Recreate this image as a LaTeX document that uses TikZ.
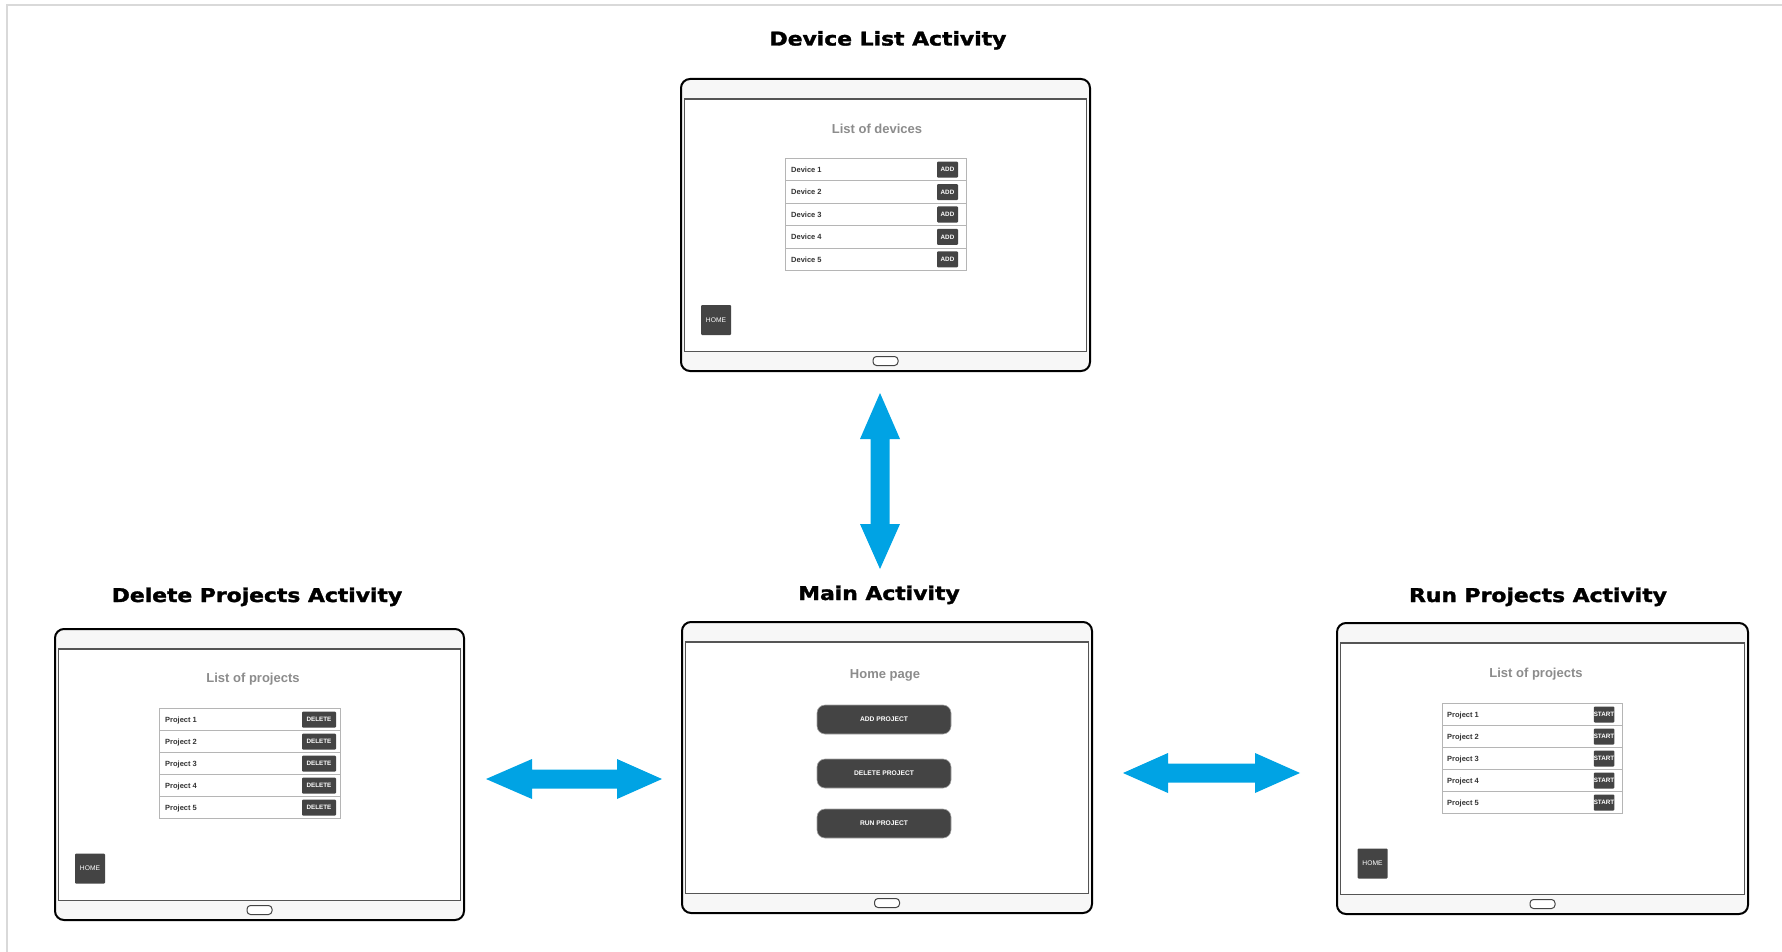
\documentclass[tikz,border=0pt]{standalone}
\usepackage{fontspec}
\setmainfont{Liberation Sans}
\newfontfamily\titlefont{DejaVu Sans}[BoldFeatures={FakeBold=1.6}]
\usepackage{graphicx}
\definecolor{frameline}{HTML}{D9D9D9}
\definecolor{tabfill}{HTML}{F7F7F7}
\definecolor{screenline}{HTML}{555555}
\definecolor{btnfill}{HTML}{444444}
\definecolor{rowline}{HTML}{B5B5B5}
\definecolor{headgray}{HTML}{8C8C8C}
\definecolor{labeldark}{HTML}{333333}
\definecolor{arrowblue}{HTML}{00A3E4}
\tikzset{
 tabouter/.style={draw=black, line width=2pt, fill=tabfill, rounded corners=9pt, inner sep=0pt},
 screenbox/.style={draw=screenline, line width=1.3pt, fill=white, inner sep=0pt},
 hwbutton/.style={draw=btnfill, line width=1pt, fill=white, rounded corners=3.5pt, minimum width=25pt, minimum height=9pt, inner sep=0pt},
 rowbox/.style={draw=rowline, line width=1pt, fill=white, inner sep=0pt, minimum height=22pt},
 rowlabel/.style={font=\bfseries\fontsize{7.5}{9}\selectfont, text=labeldark, inner sep=0pt},
 smallbtn/.style={fill=btnfill, rounded corners=1pt, minimum height=16pt, inner sep=0pt, text=white, font=\bfseries\fontsize{6.3}{7}\selectfont},
 homebtn/.style={fill=btnfill, rounded corners=1pt, minimum width=30pt, minimum height=30pt, inner sep=0pt, text=white, font=\fontsize{6.7}{8}\selectfont},
 bigbtn/.style={fill=btnfill, draw=gray!70, line width=0.6pt, rounded corners=8pt, minimum width=134pt, minimum height=29pt, inner sep=0pt, text=white, font=\bfseries\fontsize{6.7}{8}\selectfont},
 heading/.style={font=\bfseries\fontsize{13}{15}\selectfont, text=headgray, inner sep=0pt, anchor=base},
 acttitle/.style={font=\titlefont\bfseries\fontsize{19}{23}\selectfont, inner sep=0pt, anchor=base},
 blockarrow/.style={fill=arrowblue},
}
\newcommand{\mytablet}[5]{%
 \node[tabouter, minimum width={#4-#2}, minimum height={#5-#3}] (#1) at ({(#2+#4)/2},{(#3+#5)/2}) {};
 \node[screenbox, minimum width={#4-#2-7}, minimum height={#5-#3-39.5}] (#1scr) at ({(#2+#4)/2},{(#3+20+#5-19.5)/2}) {};
 \node[hwbutton] (#1hb) at ({(#2+#4)/2},{#5-10}) {};
}
\begin{document}
\begin{tikzpicture}[x=1pt,y=-1pt]
\useasboundingbox (0,0) rectangle (1782,952);
\draw[frameline, line width=2pt] (7,952) -- (7,5) -- (1782,5);

% tablets
\mytablet{dev}{681}{79}{1090}{371}
\mytablet{main}{682}{622}{1092}{913}
\mytablet{del}{55}{629}{464}{920}
\mytablet{run}{1337}{623}{1748}{914}

% titles
\node[acttitle] (devt) at (888,45.5) {\scalebox{1.15}[1]{Device List Activity}};
\node[acttitle] (maint) at (879,600) {\scalebox{1.15}[1]{Main Activity}};
\node[acttitle] (delt) at (257,602) {\scalebox{1.15}[1]{Delete Projects Activity}};
\node[acttitle] (runt) at (1538,602) {\scalebox{1.15}[1]{Run Projects Activity}};

% headings
\node[heading] (devh) at (877,134) {List of devices};
\node[heading] (mainh) at (885,678) {Home page};
\node[heading] (delh) at (253,682) {List of projects};
\node[heading] (runh) at (1536,677) {List of projects};

% device list
\foreach \i in {1,...,5}{
 \node[rowbox, minimum width=181pt, minimum height=22.4pt, anchor=north west] (devr\i) at (785,{158+(\i-1)*22.4}) {};
 \node[rowlabel, anchor=base west] (devl\i) at ([xshift=6pt,yshift=-2.7pt]devr\i.west) {Device \i};
 \node[smallbtn, minimum width=21pt] (devb\i) at ([xshift=-19.5pt]devr\i.east) {ADD};
}
% delete list
\foreach \i in {1,...,5}{
 \node[rowbox, minimum width=181pt, anchor=north west] (delr\i) at (159,{708+(\i-1)*22}) {};
 \node[rowlabel, anchor=base west] (dell\i) at ([xshift=6pt,yshift=-2.7pt]delr\i.west) {Project \i};
 \node[smallbtn, minimum width=34pt] (delb\i) at ([xshift=-22pt]delr\i.east) {DELETE};
}
% run list
\foreach \i in {1,...,5}{
 \node[rowbox, minimum width=180pt, anchor=north west] (runr\i) at (1442,{703+(\i-1)*22}) {};
 \node[rowlabel, anchor=base west] (runl\i) at ([xshift=5pt,yshift=-2.7pt]runr\i.west) {Project \i};
 \node[smallbtn, minimum width=20pt] (runb\i) at ([xshift=-19pt]runr\i.east) {START};
}

% main buttons
\node[bigbtn] (addp) at (884,719.5) {ADD PROJECT};
\node[bigbtn] (delp) at (884,773.5) {DELETE PROJECT};
\node[bigbtn] (runp) at (884,823.5) {RUN PROJECT};

% home buttons
\node[homebtn] (devhome) at (716,320) {HOME};
\node[homebtn] (delhome) at (90,868.5) {HOME};
\node[homebtn] (runhome) at (1372.5,863.5) {HOME};

% block arrows
\fill[blockarrow] (880,393) -- (900,439) -- (889.5,439) -- (889.5,524) -- (900,524) -- (880,569) -- (860,524) -- (870.5,524) -- (870.5,439) -- (860,439) -- cycle;
\fill[blockarrow] (486,779) -- (532,759) -- (532,769.5) -- (617,769.5) -- (617,759) -- (662,779) -- (617,799) -- (617,788.5) -- (532,788.5) -- (532,799) -- cycle;
\fill[blockarrow] (1123,773) -- (1168,753) -- (1168,763.5) -- (1255,763.5) -- (1255,753) -- (1300,773) -- (1255,793) -- (1255,782.5) -- (1168,782.5) -- (1168,793) -- cycle;
\end{tikzpicture}
\end{document}
